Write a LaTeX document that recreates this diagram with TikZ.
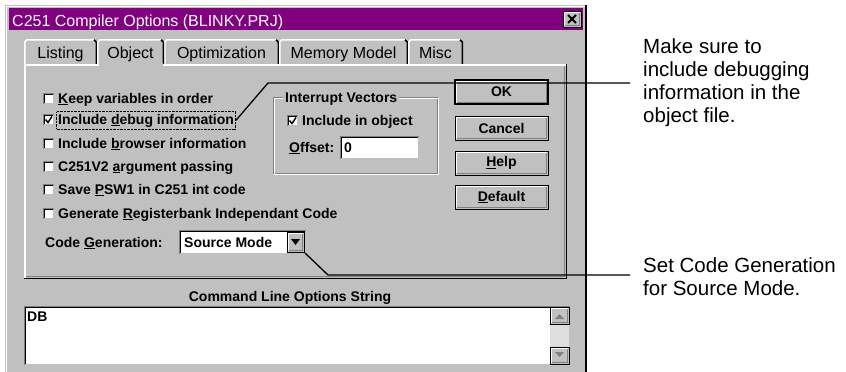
\documentclass[tikz,border=0pt]{standalone}
\usepackage{fontspec}
\setmainfont{Liberation Sans}
\usetikzlibrary{fit}

\definecolor{wingray}{HTML}{C0C0C0}
\definecolor{windark}{HTML}{808080}
\definecolor{wintitle}{HTML}{800080}
\definecolor{wintrack}{HTML}{DEDEDE}

\tikzset{
  dlgtext/.style={font=\fontsize{14}{16}\selectfont\bfseries, inner sep=0pt, anchor=base west},
  tabtext/.style={font=\fontsize{16}{18}\selectfont, inner sep=0pt, anchor=base},
  titletext/.style={font=\fontsize{16}{18}\selectfont, text=white, inner sep=0pt, anchor=base west},
  btntext/.style={font=\fontsize{14}{16}\selectfont\bfseries, inner sep=0pt},
  note/.style={font=\fontsize{20.5}{23}\selectfont, align=left, inner sep=0pt, anchor=north west},
  callout/.style={line width=1.3pt},
}

% raised 3D box: left, top, right, bottom
\newcommand{\raised}[4]{%
  \fill[wingray] (#1,#2) rectangle (#3,#4);
  \draw[black] (#1,#2) rectangle (#3,#4);
  \draw[white, line width=1.5pt] (#1+1.5,#4-1.5) -- (#1+1.5,#2+1.5) -- (#3-1.5,#2+1.5);
  \draw[windark, line width=1.5pt] (#1+1.5,#4-1.5) -- (#3-1.5,#4-1.5) -- (#3-1.5,#2+1.5);
}
% sunken 3D field: left, top, right, bottom
\newcommand{\sunken}[4]{%
  \fill[white] (#1,#2) rectangle (#3,#4);
  \draw[windark] (#1,#4) -- (#1,#2) -- (#3,#2);
  \draw[black] (#1+1,#4-1) -- (#1+1,#2+1) -- (#3-1,#2+1);
  \draw[wingray] (#1+1,#4-1) -- (#3-1,#4-1) -- (#3-1,#2+1);
}
% tab: left, right
\newcommand{\tabshape}[2]{%
  \fill[wingray] (#1,64) -- (#1,42) -- (#1+3,39) -- (#2-3,39) -- (#2,42) -- (#2,64) -- cycle;
  \draw[white, line width=1.5pt] (#1+0.75,64) -- (#1+0.75,42) -- (#1+3,39.75) -- (#2-3,39.75);
  \draw[black, line width=1.5pt] (#2-3,39.75) -- (#2-0.75,42) -- (#2-0.75,64);
}

\begin{document}
\begin{tikzpicture}[x=1pt, y=-1pt]
\useasboundingbox (0,0) rectangle (846,372);
\fill[white] (0,0) rectangle (846,372);

% Define the dialog window
\fill[wingray] (5,5) rectangle (587,372);
\draw[white, line width=1.5pt] (6.5,372) -- (6.5,6.5) -- (585,6.5);
\draw[black, line width=1.5pt] (586,5) -- (586,372);
\fill[wintitle] (9,8) rectangle (583,30);
\node[titletext] (title) at (12,26) {C251 Compiler Options (BLINKY.PRJ)};
\raised{563}{11}{581}{27}
\draw[line width=2pt] (568,15) -- (576,23) (576,15) -- (568,23);

% Define the tabs
\foreach \xa/\xb/\txt/\nm in {24/97/Listing/listing, 164/279/Optimization/optim, 279/408/Memory Model/memory, 408/463/Misc/misc} {
  \tabshape{\xa}{\xb}
  \node[tabtext] (\nm) at ({(\xa+\xb)/2},58) {\txt};
}

% Define the panel
\fill[wingray] (24,64) rectangle (567,279);
\draw[white, line width=1.5pt] (24.75,279) -- (24.75,64.75) -- (567,64.75);
\draw[black, line width=1.5pt] (566.25,64) -- (566.25,278.25) -- (24,278.25);
\draw[windark] (564.5,66) -- (564.5,276.5) -- (26,276.5);

% selected tab
\tabshape{97}{164}
\fill[wingray] (98.5,63) rectangle (162.5,67);
\node[tabtext] (object) at (130.5,58) {Object};

% Define the check boxes
\foreach \y/\txt/\nm in {98/{\underline{K}eep variables in order}/keep, 119/{Include \underline{d}ebug information}/debug, 143/{Include \underline{b}rowser information}/browser, 166/{C251V2 \underline{a}rgument passing}/argpass, 189/{Save \underline{P}SW1 in C251 int code}/psw, 213/{Generate \underline{R}egisterbank Independant Code}/regbank} {
  \sunken{43}{\y-5}{54}{\y+6}
  \node[dlgtext] (\nm) at (58,\y+5) {\txt};
}
\draw[line width=1.5pt] (45.5,119.5) -- (48,122.5) -- (52,116.5);
\node[draw=black, densely dotted, inner xsep=1.5pt, inner ysep=2pt, fit=(debug)] (focus) {};

% Define the code generation combo box
\node[dlgtext] (codegen) at (45,247) {Code \underline{G}eneration:};
\sunken{179}{230}{306}{254}
\node[dlgtext] (source) at (184,247) {Source Mode};
\raised{287}{232}{304}{252}
\fill (291,239) -- (300,239) -- (295.5,245) -- cycle;
\coordinate (cgarrow) at (305,253);

% Define the interrupt vectors group
\draw[windark] (273,97) rectangle (437,173);
\draw[white] (274,98) rectangle (438,174);
\node[dlgtext, fill=wingray, inner xsep=2pt, inner ysep=1pt] (ivlabel) at (283,102) {Interrupt Vectors};
\sunken{287}{115}{298}{126}
\draw[line width=1.5pt] (289.5,120.5) -- (292,123.5) -- (296,117.5);
\node[dlgtext] (inobj) at (302,125) {Include in object};
\node[dlgtext] (offset) at (289,152) {\underline{O}ffset:};
\sunken{340}{136}{419}{159}
\node[dlgtext] (offval) at (344,152) {0};

% Define the buttons
\foreach \ya/\yb/\txt/\nm in {80/104/OK/okbtn, 116/140/Cancel/cancelbtn, 151/175/{\underline{H}elp}/helpbtn, 185/209/{\underline{D}efault}/defaultbtn} {
  \raised{455}{\ya}{548}{\yb}
  \node[btntext] (\nm) at (501.5,{(\ya+\yb)/2}) {\txt};
}
\draw[line width=1.5pt] (455,80) rectangle (548,104);

% Define the command line box
\node[dlgtext, anchor=base] (cmdlabel) at (290,301) {Command Line Options String};
\sunken{24}{306}{570}{365}
\node[dlgtext] (cmdval) at (27,321) {DB};
\fill[wintrack] (550,324) rectangle (569,347);
\raised{550}{307}{569}{324}
\raised{550}{347}{569}{364}
\fill[windark] (555,319) -- (564,319) -- (559.5,314) -- cycle;
\fill[windark] (555,352) -- (564,352) -- (559.5,357) -- cycle;

% Draw the callouts
\coordinate (dbgbend) at (268,83);
\coordinate (dbgend) at (630,83);
\draw[callout] (focus.east) -- (dbgbend) -- (dbgend);
\node[note] (note1) at (643,38) {Make sure to\\include debugging\\information in the\\object file.};

\coordinate (cgbend) at (328,275);
\coordinate (cgend) at (630,275);
\draw[callout] (cgarrow) -- (cgbend) -- (cgend);
\node[note] (note2) at (643,257) {Set Code Generation\\for Source Mode.};
\end{tikzpicture}
\end{document}
